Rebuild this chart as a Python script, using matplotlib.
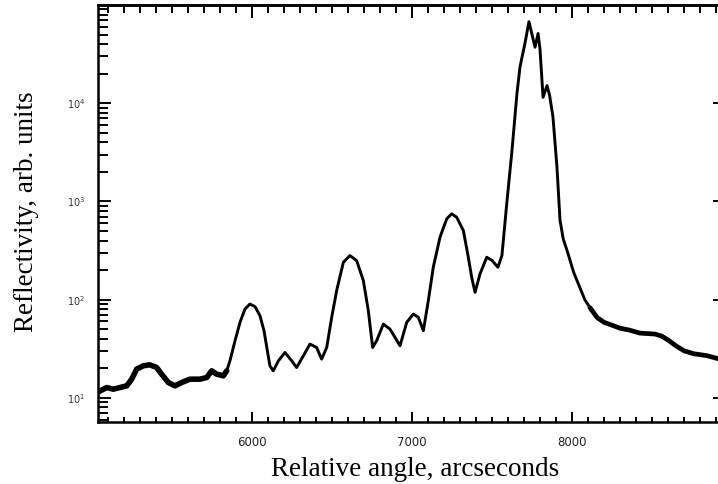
import numpy as np
import matplotlib
matplotlib.use("Agg")
from matplotlib import pyplot as plt
from matplotlib.ticker import MultipleLocator, LogLocator, FixedLocator, NullFormatter

# angle in arcseconds, reflectivity as log10
angle = [5040, 5050, 5092, 5133, 5175, 5217, 5248, 5279, 5321, 5362, 5404, 5435,
         5477, 5519, 5560, 5612, 5675, 5717, 5748, 5779, 5821, 5842, 5862, 5894,
         5925, 5956, 5987, 6019, 6050, 6075, 6096, 6112, 6133, 6165, 6206, 6248,
         6279, 6321, 6362, 6404, 6435, 6467, 6498, 6529, 6571, 6612, 6654, 6696,
         6727, 6754, 6779, 6821, 6862, 6894, 6925, 6967, 7008, 7040, 7071, 7102,
         7133, 7175, 7217, 7248, 7279, 7321, 7352, 7373, 7394, 7425, 7467, 7500,
         7537, 7562, 7594, 7625, 7656, 7675, 7706, 7731, 7750, 7769, 7788, 7800,
         7819, 7844, 7860, 7881, 7906, 7925, 7945, 7975, 8010, 8050, 8080, 8112,
         8156, 8200, 8250, 8300, 8360, 8425, 8519, 8560, 8600, 8650, 8700, 8760,
         8844, 8912]
log_refl = [1.06, 1.071, 1.106, 1.089, 1.106, 1.123, 1.191, 1.293, 1.327, 1.337, 1.310, 1.242,
            1.157, 1.123, 1.157, 1.191, 1.191, 1.208, 1.276, 1.242, 1.225, 1.276, 1.378, 1.582,
            1.769, 1.905, 1.956, 1.929, 1.837, 1.684, 1.480, 1.327, 1.276, 1.378, 1.463, 1.378,
            1.310, 1.429, 1.548, 1.514, 1.395, 1.514, 1.820, 2.092, 2.381, 2.449, 2.398, 2.194,
            1.888, 1.514, 1.582, 1.752, 1.701, 1.616, 1.531, 1.769, 1.854, 1.820, 1.684, 1.990,
            2.330, 2.636, 2.823, 2.874, 2.840, 2.704, 2.432, 2.228, 2.075, 2.262, 2.432, 2.40,
            2.33, 2.45, 3.01, 3.52, 4.10, 4.37, 4.61, 4.83, 4.70, 4.57, 4.71, 4.55,
            4.06, 4.18, 4.08, 3.86, 3.35, 2.81, 2.62, 2.47, 2.28, 2.12, 2.00, 1.92,
            1.82, 1.77, 1.74, 1.71, 1.69, 1.66, 1.65, 1.63, 1.59, 1.53, 1.48, 1.45,
            1.43, 1.40]
refl = 10 ** np.array(log_refl)

xticks = [6000, 7000, 8000]
yticks = [1e1, 1e2, 1e3, 1e4]

fig = plt.figure(figsize=(7.18, 4.84), dpi=100)
ax = fig.add_axes([98/718, 1 - 422/484, 620/718, 417/484])

line_kw = dict(color="black", solid_joinstyle="round", solid_capstyle="round")
ax.plot(angle, refl, lw=2.1, **line_kw)
# the low-count ends of the scan are drawn heavier (noisy band in the original)
a = np.array(angle)
lo = a <= 5842
hi = a >= 8112
ax.plot(a[lo], refl[lo], lw=4, **line_kw)
ax.plot(a[hi], refl[hi], lw=3.4, **line_kw)

ax.set_yscale("log")
ax.set_xlim(5037.5, 8912.5)
ax.set_ylim(10**0.755, 1e5)

for s in ax.spines.values():
  s.set_linewidth(1.8)
ax.spines["right"].set_visible(False)

ax.xaxis.set_major_locator(FixedLocator(xticks))
ax.xaxis.set_minor_locator(MultipleLocator(100))
ax.set_xticklabels([str(t) for t in xticks])
ax.yaxis.set_major_locator(FixedLocator(yticks))
ax.yaxis.set_minor_locator(LogLocator(base=10, subs=np.arange(2, 10)))
ax.yaxis.set_minor_formatter(NullFormatter())
ax.set_yticklabels([r"$10^{%d}$" % int(np.log10(t)) for t in yticks])

ax.tick_params(axis="x", which="both", direction="in", top=False, bottom=True,
               width=1.4, labelsize=8.5, pad=10, labelcolor="#222222")
ax.tick_params(axis="x", which="major", length=7.2)
ax.tick_params(axis="x", which="minor", length=3.6)
ax.tick_params(axis="y", which="both", direction="in", left=True, right=True,
               width=1.4, labelsize=7, pad=9, labelcolor="#333333")
ax.tick_params(axis="y", which="major", length=9.4)
ax.tick_params(axis="y", which="minor", length=7, right=False)
for t in ax.yaxis.get_major_ticks():
  t.tick2line.set_markersize(3.6)

# top axis carries longer ticks than the bottom one
top = ax.secondary_xaxis("top")
top.xaxis.set_major_locator(FixedLocator(xticks))
top.xaxis.set_minor_locator(MultipleLocator(100))
top.tick_params(which="both", direction="in", width=1.4, labeltop=False)
top.tick_params(which="major", length=9.4)
top.tick_params(which="minor", length=5.8)
top.spines["top"].set_linewidth(1.8)

fig.text(415/718, 1 - 476/484, "Relative angle, arcseconds", family="Liberation Serif",
         fontsize=19.5, ha="center", va="baseline")
fig.text(26.5/718, 1 - 211.5/484, "Reflectivity, arb. units", family="Liberation Serif",
         fontsize=19.5, rotation=90, ha="center", va="center")

fig.savefig("out.png", dpi=100)
